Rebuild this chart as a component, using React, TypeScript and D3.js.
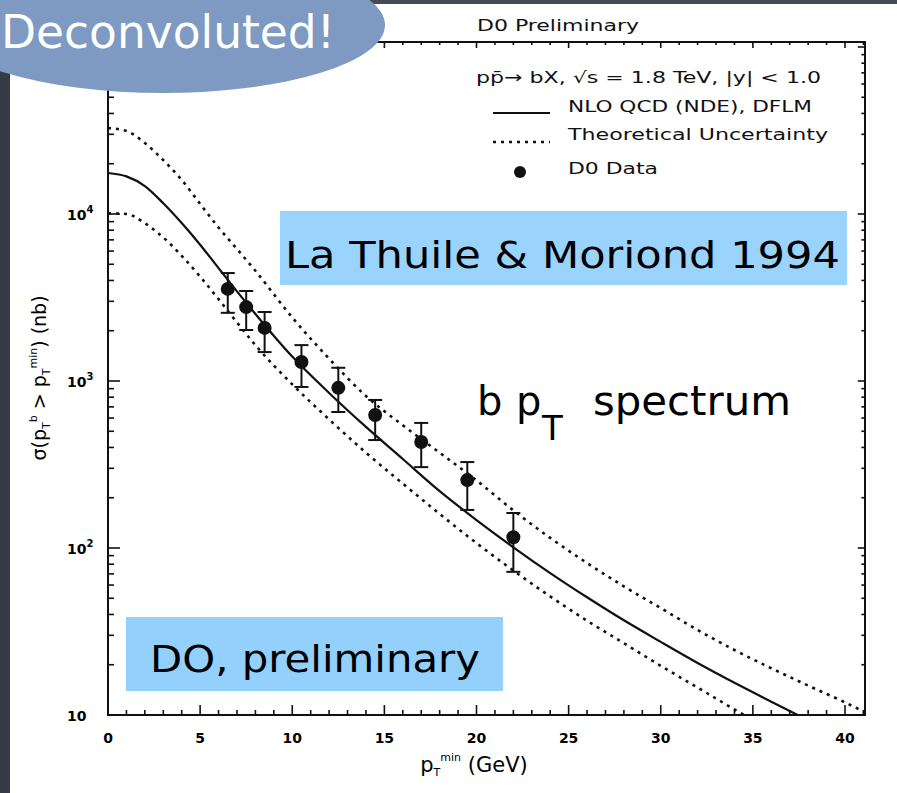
import * as d3 from "d3";
import { useEffect, useRef } from "react";

// D0 data points (pT min in GeV, sigma in nb)
const ptData = [6.5, 7.5, 8.5, 10.5, 12.5, 14.5, 17, 19.5, 22];
const sigmaData = [3560, 2770, 2080, 1300, 910, 626, 431, 255, 116];
const sigmaHigh = [4430, 3460, 2590, 1640, 1200, 770, 561, 327, 162];
const sigmaLow = [2560, 2020, 1490, 921, 652, 443, 305, 169, 72];

// NLO QCD central curve
const nloPt = [0, 1, 2, 3, 4, 5, 6, 7, 8, 10, 12, 14, 16, 18, 20, 22, 24, 26, 28, 30, 32, 34, 36, 38];
const nloSigma = [17600, 16800, 14700, 11600, 8830, 6550, 4740, 3440, 2520, 1400, 848, 531, 341, 219, 147, 101, 70.8, 50.7, 36.9, 27.4, 20.5, 15.6, 12.0, 9.3];

// theoretical uncertainty band edges
const upperPt = [0, 1, 2, 3, 4, 5, 6, 7, 8, 10, 12, 14, 16, 18, 20, 22, 24, 26, 28, 30, 32, 34, 36, 38, 40, 41, 42];
const upperSigma = [32700, 31400, 26600, 21000, 16000, 11500, 8300, 6170, 4570, 2400, 1360, 813, 543, 372, 254, 168, 115, 81.3, 58.9, 43.7, 32.3, 24.5, 19.05, 15.0, 11.9, 10.5, 9.3];
const lowerPt = [0, 1, 2, 3, 4, 5, 6, 7, 8, 10, 12, 14, 16, 18, 20, 22, 24, 26, 28, 30, 32, 34, 36];
const lowerSigma = [10100, 10000, 8810, 7240, 5620, 4220, 3090, 2240, 1640, 955, 589, 372, 243, 160, 107, 73.3, 51.3, 36.7, 26.9, 19.7, 14.6, 10.8, 8.1];

const xTicks = [0, 5, 10, 15, 20, 25, 30, 35, 40];
const yTicks = [10, 100, 1000, 10000];
const yTickExp = ["", "2", "3", "4"];

const W = 897;
const H = 793;
const plot = { left: 108, right: 865, top: 42, bottom: 715 };
const plotFont = "'DejaVu Sans', sans-serif";
const slideFont = "'Comic Sans MS', 'DejaVu Sans', sans-serif";

export default function App() {
  const ref = useRef<SVGSVGElement>(null);

  useEffect(() => {
    if (!ref.current) return;
    const svg = d3.select(ref.current);
    svg.selectAll("*").remove();

    const x = d3.scaleLinear().domain([0, 40]).range([108, 845]);
    const y = d3.scaleLog().domain([10, 10000]).range([715, 214]);
    const xMax = x.invert(plot.right);
    const yMax = y.invert(plot.top);

    svg.append("rect").attr("width", W).attr("height", H).attr("fill", "#fff");
    // dark slide edges
    svg.append("rect").attr("x", 0).attr("y", 0).attr("width", 10).attr("height", H).attr("fill", "#363a45");
    svg.append("rect").attr("x", 0).attr("y", 0).attr("width", W).attr("height", 4).attr("fill", "#464a55");

    // frame
    svg
      .append("rect")
      .attr("x", plot.left)
      .attr("y", plot.top)
      .attr("width", plot.right - plot.left)
      .attr("height", plot.bottom - plot.top)
      .attr("fill", "none")
      .attr("stroke", "#111")
      .attr("stroke-width", 2);

    const ticks = svg.append("g").attr("stroke", "#111").attr("stroke-width", 1.6);
    // x ticks every 1 GeV, longer each 5
    d3.range(0, Math.floor(xMax) + 1).forEach((v) => {
      const len = v % 5 === 0 ? 10 : 5;
      ticks.append("line").attr("x1", x(v)).attr("x2", x(v)).attr("y1", plot.bottom).attr("y2", plot.bottom - len);
      ticks.append("line").attr("x1", x(v)).attr("x2", x(v)).attr("y1", plot.top).attr("y2", plot.top + len * 0.6);
    });
    // log y ticks
    for (let dec = 10; dec <= 100000; dec *= 10) {
      for (let k = 1; k <= 9; k++) {
        const v = dec * k;
        if (v > yMax) continue;
        const len = k === 1 ? 12 : 6;
        ticks.append("line").attr("x1", plot.left).attr("x2", plot.left + len).attr("y1", y(v)).attr("y2", y(v));
        ticks.append("line").attr("x1", plot.right).attr("x2", plot.right - len * 0.6).attr("y1", y(v)).attr("y2", y(v));
      }
    }

    // tick labels
    svg
      .append("g")
      .selectAll("text")
      .data(xTicks)
      .join("text")
      .attr("x", (d) => x(d))
      .attr("y", 743)
      .attr("text-anchor", "middle")
      .style("font-family", plotFont)
      .style("font-weight", "bold")
      .style("font-size", "14px")
      .text((d) => d);

    const yl = svg
      .append("g")
      .selectAll("text")
      .data(yTicks)
      .join("text")
      .attr("x", 67)
      .attr("y", (d) => y(d) + 6)
      .style("font-family", plotFont)
      .style("font-weight", "bold")
      .style("font-size", "14px");
    yl.append("tspan").text("10");
    yl.append("tspan").attr("dy", -7).style("font-size", "10px").text((_d, i) => yTickExp[i]);

    // axis titles
    const yt = svg
      .append("text")
      .attr("transform", "translate(46,378) rotate(-90)")
      .attr("text-anchor", "middle")
      .style("font-family", plotFont)
      .style("font-size", "19px");
    yt.append("tspan").text("σ(p");
    yt.append("tspan").attr("dy", 4).style("font-size", "11px").text("T");
    yt.append("tspan").attr("dy", -13).style("font-size", "11px").text("b");
    yt.append("tspan").attr("dy", 9).text(" > p");
    yt.append("tspan").attr("dy", 4).style("font-size", "11px").text("T");
    yt.append("tspan").attr("dy", -13).style("font-size", "11px").text("min");
    yt.append("tspan").attr("dy", 9).text(") (nb)");

    const xt = svg
      .append("text")
      .attr("x", 474)
      .attr("y", 772)
      .attr("text-anchor", "middle")
      .style("font-family", plotFont)
      .style("font-size", "21px");
    xt.append("tspan").text("p");
    xt.append("tspan").attr("dy", 4).style("font-size", "11px").text("T");
    xt.append("tspan").attr("dy", -15).style("font-size", "11px").text("min");
    xt.append("tspan").attr("dy", 11).text(" (GeV)");

    // curves
    svg
      .append("clipPath")
      .attr("id", "plot-clip")
      .append("rect")
      .attr("x", plot.left)
      .attr("y", plot.top)
      .attr("width", plot.right - plot.left)
      .attr("height", plot.bottom - plot.top);
    const curves = svg.append("g").attr("clip-path", "url(#plot-clip)").attr("fill", "none").attr("stroke", "#111");
    const line = d3
      .line<[number, number]>()
      .x((d) => x(d[0]))
      .y((d) => y(d[1]))
      .curve(d3.curveMonotoneX);
    curves
      .append("path")
      .attr("d", line(nloPt.map((p, i) => [p, nloSigma[i]])))
      .attr("stroke-width", 2.2);
    curves
      .append("path")
      .attr("d", line(upperPt.map((p, i) => [p, upperSigma[i]])))
      .attr("stroke-width", 2.6)
      .attr("stroke-dasharray", "3,5");
    curves
      .append("path")
      .attr("d", line(lowerPt.map((p, i) => [p, lowerSigma[i]])))
      .attr("stroke-width", 2.6)
      .attr("stroke-dasharray", "3,5");

    // data points with error bars
    const pts = svg.append("g").attr("stroke", "#111").attr("stroke-width", 2);
    ptData.forEach((p, i) => {
      const cx = x(p);
      pts.append("line").attr("x1", cx).attr("x2", cx).attr("y1", y(sigmaHigh[i])).attr("y2", y(sigmaLow[i]));
      pts.append("line").attr("x1", cx - 7).attr("x2", cx + 7).attr("y1", y(sigmaHigh[i])).attr("y2", y(sigmaHigh[i]));
      pts.append("line").attr("x1", cx - 7).attr("x2", cx + 7).attr("y1", y(sigmaLow[i])).attr("y2", y(sigmaLow[i]));
      pts.append("circle").attr("cx", cx).attr("cy", y(sigmaData[i])).attr("r", 7).attr("fill", "#111").attr("stroke", "none");
    });

    // legend
    const lg = svg.append("g").style("font-family", plotFont).style("font-size", "16px").attr("fill", "#111");
    lg.append("text").attr("x", 477).attr("y", 31).attr("textLength", 162).attr("lengthAdjust", "spacingAndGlyphs").text("D0 Preliminary");
    lg.append("text").attr("x", 476).attr("y", 83).attr("textLength", 345).attr("lengthAdjust", "spacingAndGlyphs").text("pp̄→ bX,  √s = 1.8 TeV,  |y| < 1.0");
    lg.append("text").attr("x", 568).attr("y", 112).attr("textLength", 244).attr("lengthAdjust", "spacingAndGlyphs").text("NLO QCD (NDE), DFLM");
    lg.append("text").attr("x", 568).attr("y", 140).attr("textLength", 260).attr("lengthAdjust", "spacingAndGlyphs").text("Theoretical Uncertainty");
    lg.append("text").attr("x", 568).attr("y", 174).attr("textLength", 90).attr("lengthAdjust", "spacingAndGlyphs").text("D0 Data");
    lg.append("line").attr("x1", 493).attr("x2", 550).attr("y1", 113).attr("y2", 113).attr("stroke", "#111").attr("stroke-width", 2);
    lg.append("line").attr("x1", 493).attr("x2", 550).attr("y1", 142).attr("y2", 142).attr("stroke", "#111").attr("stroke-width", 2.4).attr("stroke-dasharray", "3,5");
    lg.append("circle").attr("cx", 520).attr("cy", 172).attr("r", 6).attr("fill", "#111");

    // slide overlays
    svg.append("ellipse").attr("cx", 163).attr("cy", 25).attr("rx", 222).attr("ry", 68).attr("fill", "#7e9ac2");
    svg
      .append("text")
      .attr("x", 1)
      .attr("y", 48)
      .attr("textLength", 334)
      .attr("lengthAdjust", "spacingAndGlyphs")
      .attr("fill", "#fff")
      .style("font-family", slideFont)
      .style("font-size", "46px")
      .text("Deconvoluted!");

    svg.append("rect").attr("x", 280).attr("y", 211).attr("width", 567).attr("height", 74).attr("fill", "#9ad3fb");
    svg
      .append("text")
      .attr("x", 285)
      .attr("y", 268)
      .attr("textLength", 555)
      .attr("lengthAdjust", "spacingAndGlyphs")
      .attr("fill", "#000")
      .style("font-family", slideFont)
      .style("font-size", "38px")
      .text("La Thuile & Moriond 1994");

    const big = svg.append("g").attr("fill", "#000").style("font-family", slideFont).style("font-size", "40px");
    big.append("text").attr("x", 477).attr("y", 415).text("b");
    big.append("text").attr("x", 516).attr("y", 415).text("p");
    big.append("text").attr("x", 542).attr("y", 440).style("font-size", "34px").text("T");
    big
      .append("text")
      .attr("x", 593)
      .attr("y", 415)
      .attr("textLength", 198)
      .attr("lengthAdjust", "spacingAndGlyphs")
      .text("spectrum");

    svg.append("rect").attr("x", 126).attr("y", 617).attr("width", 377).attr("height", 74).attr("fill", "#93d0fb");
    svg
      .append("text")
      .attr("x", 150)
      .attr("y", 672)
      .attr("textLength", 330)
      .attr("lengthAdjust", "spacingAndGlyphs")
      .attr("fill", "#000")
      .style("font-family", slideFont)
      .style("font-size", "38px")
      .text("DO, preliminary");
  }, []);

  return (
    <svg
      ref={ref}
      width={W}
      height={H}
      style={{ position: "absolute", left: 0, top: 0, display: "block" }}
    />
  );
}
